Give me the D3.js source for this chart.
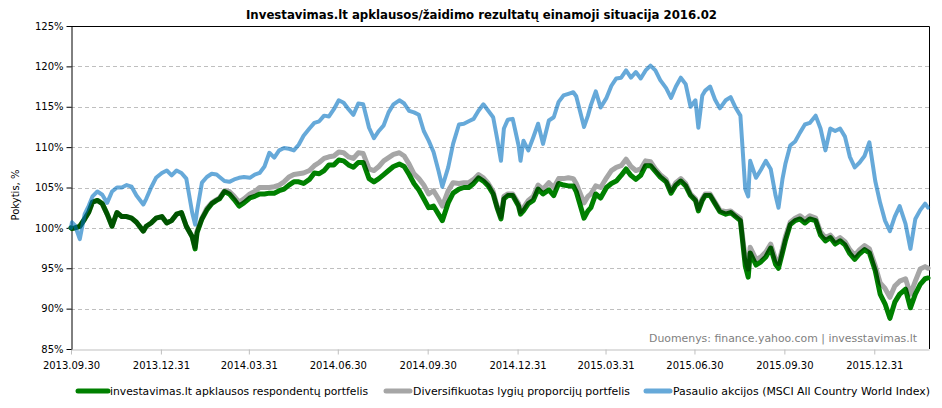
<!DOCTYPE html>
<html><head><meta charset="utf-8">
<script src="https://cdn.jsdelivr.net/npm/d3@7"></script>
<style>
html,body{margin:0;padding:0;background:#fff;}
svg{display:block;font-family:"DejaVu Sans",sans-serif;}
</style></head>
<body>
<svg id="chart" width="942" height="408"></svg>
<script>
const titleText = "Investavimas.lt apklausos/žaidimo rezultatų einamoji situacija 2016.02";
const yAxisTitle = "Pokytis, %";
const sourceText = "Duomenys: finance.yahoo.com | invesstavimas.lt";
const seriesNames = ["investavimas.lt apklausos respondentų portfelis","Diversifikuotas lygių proporcijų portfelis","Pasaulio akcijos (MSCI All Country World Index)"];
const yTicks = [85,90,95,100,105,110,115,120,125];
const xTickLabels = ["2013-09-30","2013-12-31","2014-03-31","2014-06-30","2014-09-30","2014-12-31","2015-03-31","2015-06-30","2015-09-30","2015-12-31"];

const dates = [
"2013-09-30",
"2013-10-01","2013-10-04","2013-10-09","2013-10-14","2013-10-18","2013-10-22","2013-10-27",
"2013-11-01","2013-11-06","2013-11-11","2013-11-16","2013-11-21","2013-11-26",
"2013-12-01","2013-12-06","2013-12-13","2013-12-16","2013-12-21","2013-12-26",
"2014-01-01","2014-01-06","2014-01-11","2014-01-16","2014-01-21","2014-01-26",
"2014-02-01","2014-02-04","2014-02-06","2014-02-11","2014-02-16","2014-02-21","2014-02-26",
"2014-03-01","2014-03-06","2014-03-11","2014-03-16","2014-03-21","2014-03-26",
"2014-04-01","2014-04-06","2014-04-11","2014-04-16","2014-04-21","2014-04-26",
"2014-05-01","2014-05-06","2014-05-11","2014-05-16","2014-05-21","2014-05-26",
"2014-06-01","2014-06-06","2014-06-11","2014-06-16","2014-06-21","2014-06-26",
"2014-07-01","2014-07-06","2014-07-11","2014-07-16","2014-07-21","2014-07-26",
"2014-08-01","2014-08-06","2014-08-11","2014-08-16","2014-08-21","2014-08-26",
"2014-09-01","2014-09-06","2014-09-11","2014-09-16","2014-09-21","2014-09-26",
"2014-10-01","2014-10-06","2014-10-11","2014-10-15","2014-10-21","2014-10-26",
"2014-11-01","2014-11-06","2014-11-11","2014-11-16","2014-11-21","2014-11-26",
"2014-12-01","2014-12-06","2014-12-10","2014-12-14","2014-12-17","2014-12-21","2014-12-26",
"2015-01-01","2015-01-03","2015-01-06","2015-01-11","2015-01-16","2015-01-21","2015-01-26",
"2015-02-01","2015-02-06","2015-02-11","2015-02-16","2015-02-21","2015-02-26",
"2015-03-01","2015-03-09","2015-03-13","2015-03-16","2015-03-21","2015-03-26",
"2015-04-01","2015-04-06","2015-04-11","2015-04-16","2015-04-21","2015-04-26",
"2015-05-01","2015-05-06","2015-05-11","2015-05-16","2015-05-21","2015-05-26",
"2015-06-01","2015-06-06","2015-06-11","2015-06-16","2015-06-21","2015-06-26",
"2015-07-01","2015-07-04","2015-07-08","2015-07-11","2015-07-16","2015-07-21","2015-07-26",
"2015-08-01","2015-08-06","2015-08-11","2015-08-16","2015-08-21","2015-08-24","2015-08-26",
"2015-09-01","2015-09-06","2015-09-11","2015-09-16","2015-09-21","2015-09-24","2015-09-28",
"2015-10-01","2015-10-06","2015-10-11","2015-10-16","2015-10-21","2015-10-26",
"2015-11-01","2015-11-06","2015-11-11","2015-11-16","2015-11-21","2015-11-26",
"2015-12-01","2015-12-06","2015-12-11","2015-12-16","2015-12-21","2015-12-26",
"2016-01-01","2016-01-06","2016-01-11","2016-01-16","2016-01-21","2016-01-26",
"2016-02-01","2016-02-06","2016-02-11","2016-02-16","2016-02-21","2016-02-24"
];

const respondentai = [
100.0,
99.9,100.0,100.2,101.1,101.9,103.2,103.4,
103.0,101.7,100.2,101.9,101.4,101.4,
101.2,100.7,99.6,100.2,100.6,101.2,
101.4,100.6,100.9,101.7,101.9,100.2,
98.9,97.4,99.4,101.1,102.2,103.0,103.4,
103.6,104.5,104.2,103.5,102.7,103.1,
103.7,103.9,104.2,104.2,104.3,104.3,
104.6,104.8,105.3,105.7,105.7,105.5,
106.0,106.8,106.7,107.1,107.8,107.8,
108.4,108.3,107.8,107.5,108.1,108.1,
106.1,105.7,106.1,106.6,107.1,107.6,
107.9,107.6,106.6,105.5,104.7,103.6,
102.5,102.7,101.7,100.9,103.1,104.3,
104.8,105.0,105.0,105.5,106.2,105.8,
105.2,104.2,102.5,101.1,103.6,104.0,104.0,
102.7,101.7,102.1,103.0,103.4,104.8,104.2,
104.7,104.0,105.5,105.3,105.2,105.2,
104.5,101.2,102.1,102.5,104.2,103.7,
105.0,105.5,105.8,106.5,107.3,106.5,
106.0,106.5,107.7,107.7,107.0,106.3,
105.7,104.3,105.3,105.8,105.2,104.0,
103.4,102.1,103.4,104.0,104.0,103.0,102.0,
101.7,101.9,101.4,100.9,95.3,93.9,96.9,
95.4,95.8,96.4,97.5,95.5,95.0,96.9,
98.4,100.4,100.9,101.1,100.6,101.1,
100.9,99.1,98.4,98.8,98.0,98.4,
97.9,96.8,96.1,96.8,97.3,96.9,
94.7,91.8,90.6,88.8,90.8,91.8,
92.4,90.1,91.8,93.0,93.7,93.8
];

const diversifikuotas = [
100.0,
99.9,100.0,100.2,101.1,101.9,103.2,103.4,
103.0,101.7,100.2,101.9,101.4,101.4,
101.2,100.7,99.6,100.2,100.6,101.2,
101.4,100.6,100.9,101.7,101.9,100.2,
98.9,97.6,99.6,101.2,102.4,103.1,103.5,
103.7,104.6,104.5,103.9,103.2,103.6,
104.2,104.5,105.0,105.0,105.0,105.1,
105.3,105.7,106.3,106.6,106.7,106.8,
107.1,107.7,108.1,108.6,108.8,108.9,
109.4,109.3,108.8,108.6,109.3,109.2,
107.3,107.1,107.6,108.3,108.7,109.1,
109.3,108.9,107.9,106.7,106.1,105.3,
104.2,104.6,103.6,102.7,104.6,105.6,
105.5,105.6,105.6,106.0,106.6,106.2,
105.5,104.5,102.7,101.4,103.9,104.2,104.2,
103.0,102.0,102.5,103.4,103.9,105.3,104.8,
105.6,105.0,106.1,106.1,106.2,106.1,
105.5,103.1,103.9,104.2,105.2,105.0,
106.2,107.1,107.5,107.7,108.5,107.6,
107.1,107.3,108.3,108.2,107.3,106.6,
106.0,104.6,105.6,106.1,105.5,104.2,
103.6,102.4,103.6,104.2,104.2,103.2,102.2,
102.0,102.1,101.6,101.2,96.1,94.9,97.6,
96.1,96.4,97.0,98.0,96.1,95.6,97.4,
98.9,100.7,101.2,101.5,101.0,101.5,
101.2,99.5,98.8,99.1,98.4,98.8,
98.3,97.3,96.6,97.3,97.8,97.4,
95.3,93.2,92.5,91.4,92.8,93.4,
93.7,91.8,93.4,94.9,95.2,95.0
];

const pasaulio = [
100.0,
100.7,100.3,98.6,101.7,102.7,103.9,104.5,
104.1,103.1,104.5,105.0,105.0,105.3,
105.1,104.0,102.9,103.6,105.0,106.2,
106.8,107.1,106.5,107.1,106.8,106.1,
101.9,100.4,102.1,105.6,106.3,106.7,106.6,
106.3,105.8,105.7,106.0,106.2,106.3,
106.2,106.6,106.8,107.6,109.3,108.7,
109.6,109.9,109.8,109.6,110.3,111.4,
112.3,113.0,113.2,113.9,113.8,114.7,
115.8,115.5,114.7,114.0,115.4,115.3,
112.4,111.1,112.0,112.7,114.3,115.3,
115.8,115.4,114.5,114.3,114.0,112.0,
110.8,109.4,107.1,105.1,107.5,110.4,
112.8,112.9,113.2,113.5,114.5,115.3,
114.5,113.7,111.1,108.3,112.3,113.4,113.5,
110.2,108.3,110.8,109.6,111.2,112.9,110.4,
113.3,113.7,115.6,116.4,116.6,116.8,
116.3,112.5,113.9,115.2,116.9,114.9,
116.1,117.6,118.5,118.6,119.5,118.6,
119.3,118.5,119.5,120.1,119.5,118.3,
117.3,116.1,117.5,118.6,117.8,115.0,
115.8,112.4,116.4,117.0,117.5,115.9,114.8,
115.8,116.2,114.9,113.9,104.8,103.9,108.3,
106.2,107.2,108.3,107.3,104.0,102.5,106.0,
107.9,110.2,110.7,111.8,112.8,113.0,
113.9,112.3,109.6,112.3,112.0,112.3,
111.3,108.8,107.5,108.1,108.9,110.6,
105.8,103.1,100.9,99.6,101.4,102.7,
100.5,97.4,101.1,102.2,103.0,102.5
];

const parse = d3.timeParse("%Y-%m-%d");
const svg = d3.select("#chart");
const L = 71, R = 929, T = 26, B = 349;

const x = d3.scaleTime().domain([parse("2013-09-30"), parse("2016-02-25")]).range([L, R]);
const y = d3.scaleLinear().domain([85, 125]).range([B, T]);

// gridlines
svg.append("g").selectAll("line").data(yTicks.filter(v => v > 85 && v < 125)).join("line")
  .attr("x1", L).attr("x2", R)
  .attr("y1", d => Math.round(y(d)) + 0.5).attr("y2", d => Math.round(y(d)) + 0.5)
  .attr("stroke", "#bfbfbf").attr("stroke-width", 1).attr("stroke-dasharray", "4,3");

// x axis
const xAxis = d3.axisBottom(x)
  .tickValues(xTickLabels.map(parse))
  .tickFormat(d3.timeFormat("%Y.%m.%d"))
  .tickSize(5).tickSizeOuter(0).tickPadding(7);
const gx = svg.append("g").attr("transform", `translate(0,${B + 0.5})`).call(xAxis);
gx.select(".domain").attr("stroke", "#bfbfbf");
gx.selectAll(".tick line").attr("stroke", "#bfbfbf");
gx.selectAll(".tick text").attr("fill", "#000").style("font-size", "10px").style("font-family", "DejaVu Sans");

// y axis
const yAxis = d3.axisLeft(y).tickValues(yTicks).tickFormat(d => d + "%")
  .tickSize(5).tickSizeOuter(0).tickPadding(3);
const gy = svg.append("g").attr("transform", `translate(${L + 0.5},0)`).call(yAxis);
gy.select(".domain").attr("stroke", "#000");
gy.selectAll(".tick line").attr("stroke", "#000");
gy.selectAll(".tick text").attr("fill", "#000").style("font-size", "10px").style("font-family", "DejaVu Sans");

// top & right border
svg.append("path")
  .attr("d", `M${L},${T + 0.5}H${R + 0.5}V${B}`)
  .attr("fill", "none").attr("stroke", "#000").attr("stroke-width", 1);

const mk = vals => dates.map((d, i) => ({date: parse(d), v: vals[i]})).filter(p => p.v != null);
const line = d3.line().x(d => x(d.date)).y(d => y(d.v));

const plot = svg.append("g").style("isolation", "isolate");
plot.append("path").datum(mk(diversifikuotas)).attr("d", line)
  .attr("fill", "none").attr("stroke", "#a6a6a6").attr("stroke-width", 5)
  .attr("stroke-linejoin", "round").attr("stroke-linecap", "round");
plot.append("path").datum(mk(respondentai)).attr("d", line)
  .attr("fill", "none").attr("stroke", "#008000").attr("stroke-width", 5)
  .attr("stroke-linejoin", "round").attr("stroke-linecap", "round")
  .style("mix-blend-mode", "multiply");
plot.append("path").datum(mk(pasaulio)).attr("d", line)
  .attr("fill", "none").attr("stroke", "#0070c0").attr("stroke-opacity", 0.6).attr("stroke-width", 4)
  .attr("stroke-linejoin", "round").attr("stroke-linecap", "round");

// title
svg.append("text").attr("x", 481.5).attr("y", 19).attr("text-anchor", "middle")
  .style("font-size", "12.5px").style("font-weight", "bold").attr("fill", "#000")
  .attr("textLength", 471).attr("lengthAdjust", "spacingAndGlyphs")
  .text(titleText);

// y axis title
svg.append("text").attr("transform", "translate(19,195) rotate(-90)").attr("text-anchor", "middle")
  .style("font-size", "10px").attr("fill", "#000").text(yAxisTitle);

// source
svg.append("text").attr("x", 917).attr("y", 342).attr("text-anchor", "end")
  .style("font-size", "10.5px").attr("fill", "#7f7f7f")
  .attr("textLength", 268).attr("lengthAdjust", "spacingAndGlyphs")
  .text(sourceText);

// legend
const legend = [
  {name: seriesNames[0], color: "#008000", op: 1, x1: 78, x2: 108, tx: 110, tw: 258},
  {name: seriesNames[1], color: "#a6a6a6", op: 1, x1: 386, x2: 410, tx: 413, tw: 217},
  {name: seriesNames[2], color: "#0070c0", op: 0.6, x1: 646, x2: 670, tx: 673, tw: 257}
];
const lg = svg.append("g");
legend.forEach(l => {
  lg.append("line").attr("x1", l.x1).attr("x2", l.x2).attr("y1", 391).attr("y2", 391)
    .attr("stroke", l.color).attr("stroke-opacity", l.op).attr("stroke-width", 5).attr("stroke-linecap", "round");
  lg.append("text").attr("x", l.tx).attr("y", 395).style("font-size", "10px").attr("fill", "#000")
    .attr("textLength", l.tw).attr("lengthAdjust", "spacingAndGlyphs").text(l.name);
});
</script>
</body></html>
